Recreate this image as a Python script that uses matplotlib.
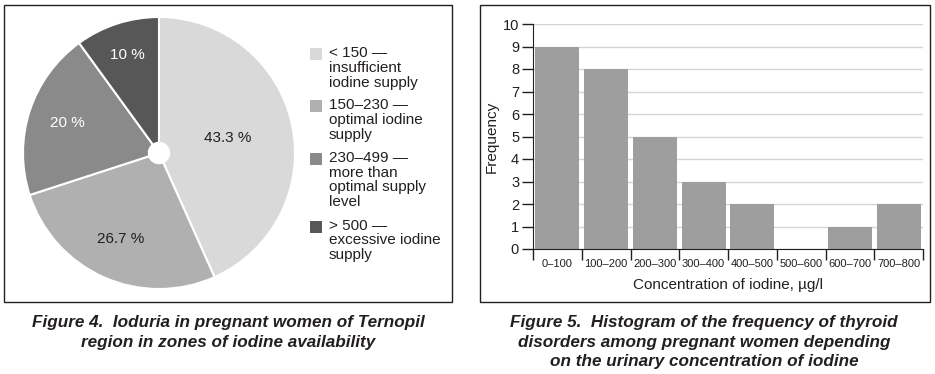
import matplotlib
matplotlib.use("Agg")
import matplotlib.pyplot as plt
from matplotlib.patches import Rectangle
import numpy as np

plt.rcParams["font.family"] = ["Liberation Sans", "DejaVu Sans"]
INK = "#231f20"

# Figure 4 data
pie_labels = ["< 150 \u2014\ninsufficient\niodine supply",
              "150\u2013230 \u2014\noptimal iodine\nsupply",
              "230\u2013499 \u2014\nmore than\noptimal supply\nlevel",
              "> 500 \u2014\nexcessive iodine\nsupply"]
pie_values = [43.3, 26.7, 20.0, 10.0]
pie_pct_text = ["43.3 %", "26.7 %", "20 %", "10 %"]
pie_colors = ["#d9d9d9", "#b0b0b0", "#8a8a8a", "#575757"]
pie_text_colors = [INK, INK, "white", "white"]
pie_label_r = [0.52, 0.69, 0.71, 0.76]

# Figure 5 data
bins = ["0\u2013100", "100\u2013200", "200\u2013300", "300\u2013400",
        "400\u2013500", "500\u2013600", "600\u2013700", "700\u2013800"]
freq = [9, 8, 5, 3, 2, 0, 1, 2]

fig = plt.figure(figsize=(9.35, 3.74), dpi=100)
W, H = 935, 374

def fx(px):
    return px / W

def fy(py):
    return 1 - py / H

# panel frames
for x0, x1 in [(4, 452), (480, 930)]:
    fig.patches.append(Rectangle((fx(x0), fy(302)), fx(x1 - x0), (302 - 5) / H,
                                 transform=fig.transFigure, fill=False,
                                 edgecolor=INK, linewidth=1.0))

# pie
cx, cy, r = 159, 153, 136
ax1 = fig.add_axes([fx(cx - r), fy(cy + r), fx(2 * r), 2 * r / H])
wedges, _ = ax1.pie(pie_values, colors=pie_colors, startangle=90, counterclock=False,
                    wedgeprops=dict(width=1 - 0.075, edgecolor="white", linewidth=1.5))
ax1.set_xlim(-1, 1)
ax1.set_ylim(-1, 1)
for w, txt, col, rr in zip(wedges, pie_pct_text, pie_text_colors, pie_label_r):
    ang = np.deg2rad((w.theta1 + w.theta2) / 2)
    ax1.text(rr * np.cos(ang), rr * np.sin(ang), txt, ha="center", va="center",
             fontsize=11, color=col)

# legend
y = 47
for lab, col in zip(pie_labels, pie_colors):
    fig.patches.append(Rectangle((fx(310), fy(y + 13)), fx(12), 12 / H,
                                 transform=fig.transFigure, facecolor=col, edgecolor="none"))
    fig.text(fx(329), fy(y - 1), lab, ha="left", va="top", fontsize=11, color=INK,
             linespacing=1.07)
    n = lab.count("\n") + 1
    y += n * 15.3 + 6.5

# histogram
ax2 = fig.add_axes([fx(533), fy(249), fx(923 - 533), (249 - 24) / H])
xs = np.arange(len(freq)) + 0.5
ax2.bar(xs, freq, width=0.9, color="#9e9e9e", zorder=3)
ax2.set_xlim(0, len(freq))
ax2.set_ylim(0, 10)
ax2.set_yticks(range(0, 11))
ax2.set_xticks(range(0, len(freq) + 1))
ax2.set_xticklabels([])
ax2.set_xticks(xs, minor=True)
ax2.set_xticklabels(bins, minor=True, fontsize=8, color=INK)
ax2.tick_params(axis="x", which="minor", length=0, pad=7)
ax2.tick_params(axis="x", which="major", length=8, width=1, color=INK, direction="out")
ax2.tick_params(axis="y", length=8, width=1, color=INK, labelsize=10.5, labelcolor=INK, pad=2)
ax2.grid(axis="y", color="#d4d4d4", linewidth=1, zorder=0)
for s in ["top", "right"]:
    ax2.spines[s].set_visible(False)
for s in ["left", "bottom"]:
    ax2.spines[s].set_color(INK)
ax2.spines["bottom"].set_zorder(4)
ax2.set_ylabel("Frequency", fontsize=11, color=INK, labelpad=3)
ax2.set_xlabel("Concentration of iodine, \u00b5g/l", fontsize=11, color=INK, labelpad=7)

# captions
cap_kw = dict(ha="center", va="top", fontsize=12.3, fontweight="bold", fontstyle="italic",
              color=INK, linespacing=1.38)
fig.text(fx(228), fy(315),
         "Figure 4.  Ioduria in pregnant women of Ternopil\nregion in zones of iodine availability",
         **cap_kw)
fig.text(fx(704), fy(315),
         "Figure 5.  Histogram of the frequency of thyroid\ndisorders among pregnant women depending\non the urinary concentration of iodine",
         **cap_kw)

fig.savefig("out.png", dpi=100)
